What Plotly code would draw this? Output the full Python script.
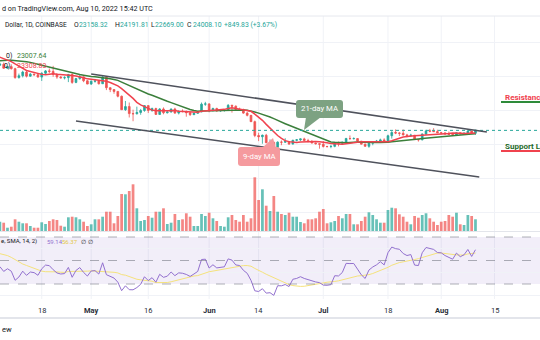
import numpy as np
import pandas as pd
import plotly.graph_objects as go

# ---------------- data ----------------
# closes before the visible window (Mar 1 - Apr 6, 2022) used for MA / RSI warm-up
pre_closes = [44420, 43920, 42460, 39140, 39400, 38420, 37990, 38740, 41940, 39440,
              38730, 38820, 37790, 39670, 39290, 41140, 40930, 41770, 42220, 41260,
              41000, 42360, 42890, 43960, 44330, 44530, 46830, 47120, 47440, 47060,
              45510, 46280, 45810, 46400, 46580, 45490, 43170]

# visible daily candles Apr 7 - Aug 10, 2022
opens = [43170, 43450, 42280, 42760, 42160, 39530, 40090, 41150, 39940, 40550,
         40390, 39680, 40800, 41490, 41370, 40480, 39710, 39460, 39520, 40430,
         38120, 39240, 39740, 38590, 37630, 38470, 38530, 37720, 39690, 36550,
         36010, 35470, 34040, 30080, 31010, 28940, 28880, 29280, 29860, 31290,
         29860, 30420, 28690, 30300, 29190, 29430, 30290, 29090, 29650, 29540,
         29200, 28620, 29020, 29450, 31720, 31790, 29800, 30450, 29700, 29860,
         29900, 31370, 31130, 30190, 30080, 29090, 28420, 26570, 22490, 22140,
         22570, 20380, 20450, 19010, 20550, 20520, 20720, 19970, 21100, 21230,
         21500, 21030, 20730, 20280, 20100, 19930, 19290, 19250, 19310, 20230,
         20190, 20550, 21620, 21590, 21600, 20850, 19960, 19320, 20220, 20580,
         20830, 21200, 20790, 22430, 23400, 23220, 23150, 22680, 22450, 22580,
         21310, 21250, 22950, 23850, 23780, 23640, 23300, 23270, 22990, 22820,
         22620, 23310, 22960, 23180, 23810, 23158.32]
highs = [43890, 43970, 42800, 43430, 42420, 40700, 41560, 41500, 40870, 40710,
         40600, 41100, 41760, 42200, 42980, 40800, 39990, 39930, 40620, 40800,
         39450, 40380, 39920, 38800, 38680, 39150, 38640, 39970, 39850, 36670,
         36140, 35500, 34250, 32660, 32200, 30100, 30990, 30320, 31400, 31310,
         30700, 30670, 30540, 30760, 29630, 30420, 30670, 29830, 30180, 29860,
         29380, 29200, 29540, 32200, 32400, 31980, 30670, 30670, 29950, 30180,
         31760, 31560, 31330, 30690, 30390, 29430, 28550, 26880, 23320, 22780,
         22980, 21350, 20750, 20780, 21040, 21700, 20880, 21220, 21470, 21580,
         21860, 21530, 21180, 20420, 20140, 20880, 19430, 19650, 20330, 20720,
         20650, 21810, 22520, 21950, 21610, 20860, 20050, 20250, 20880, 21190,
         21580, 21680, 22740, 23780, 24290, 23440, 24270, 22990, 23010, 22660,
         21340, 23100, 24200, 24440, 24660, 24200, 23480, 23460, 23650, 23200,
         23460, 23350, 23380, 24250, 23930, 24191.81]
lows = [43060, 42110, 42130, 41890, 39200, 39250, 39580, 39570, 39780, 40020,
        39550, 38540, 40560, 40850, 39760, 39180, 39300, 39000, 38200, 37700,
        37880, 38900, 38180, 37600, 37400, 38050, 37500, 37670, 35860, 35260,
        34780, 33720, 30030, 29750, 27800, 26700, 28700, 28600, 29480, 29100,
        29460, 28660, 28690, 28740, 28960, 29230, 28880, 28690, 29310, 28030,
        28280, 28560, 28850, 29320, 31220, 29320, 29610, 29520, 29470, 29520,
        29880, 29230, 29850, 29940, 28870, 28120, 26550, 22000, 20850, 20080,
        20240, 20280, 17600, 18000, 19650, 20380, 19770, 19920, 20780, 20910,
        20990, 20500, 20210, 19830, 18620, 18970, 18970, 18760, 19040, 19300,
        19760, 20250, 21210, 21320, 20660, 19880, 19240, 18900, 19630, 20400,
        20480, 20760, 20760, 21580, 22910, 22340, 22520, 21950, 22300, 21250,
        20710, 21050, 22600, 23430, 23520, 23230, 22860, 22670, 22690, 22430,
        22590, 22930, 22860, 23150, 22880, 22669.00]
closes = [43450, 42280, 42760, 42160, 39530, 40090, 41150, 39940, 40550, 40390,
          39680, 40800, 41490, 41370, 40480, 39710, 39460, 39520, 40430, 38120,
          39240, 39740, 38590, 37630, 38470, 38530, 37720, 39690, 36550, 36010,
          35470, 34040, 30080, 31010, 28940, 28880, 29280, 29860, 31290, 29860,
          30420, 28690, 30300, 29190, 29430, 30290, 29090, 29650, 29540, 29200,
          28620, 29020, 29450, 31720, 31790, 29800, 30450, 29700, 29860, 29900,
          31370, 31130, 30190, 30080, 29090, 28420, 26570, 22490, 22140, 22570,
          20380, 20450, 19010, 20550, 20520, 20720, 19970, 21100, 21230, 21500,
          21030, 20730, 20280, 20100, 19930, 19290, 19250, 19310, 20230, 20190,
          20550, 21620, 21590, 21600, 20850, 19960, 19320, 20220, 20580, 20830,
          21200, 20790, 22430, 23400, 23220, 23150, 22680, 22450, 22580, 21310,
          21250, 22950, 23850, 23780, 23640, 23300, 23270, 22990, 22820, 22620,
          23310, 22960, 23180, 23810, 23158.32, 24008.10]
# volume, thousand BTC
volumes = [18.6, 16.6, 6.6, 8.6, 23.4, 18.6, 15.4, 15.4, 10.0, 6.6,
           6.6, 17.4, 14.0, 20.0, 23.4, 22.0, 10.6, 8.6, 27.4, 28.6,
           27.4, 23.4, 18.6, 10.0, 13.4, 23.4, 23.4, 28.6, 38.6, 38.6,
           15.4, 30.0, 74.0, 73.4, 80.0, 93.4, 45.4, 20.0, 22.0, 30.0,
           26.6, 38.6, 38.6, 45.4, 14.0, 16.6, 34.0, 22.0, 23.4, 35.4,
           28.6, 10.0, 10.0, 34.0, 30.0, 36.6, 25.4, 20.0, 10.0, 8.6,
           27.4, 32.0, 22.0, 18.6, 32.0, 18.6, 25.4, 107.4, 62.0, 83.4,
           50.6, 40.0, 70.0, 38.6, 34.0, 32.0, 36.6, 28.6, 28.6, 18.0,
           15.4, 23.4, 23.4, 25.4, 38.6, 44.0, 15.4, 17.4, 20.0, 30.0,
           25.4, 34.0, 34.0, 13.4, 13.4, 20.0, 28.6, 37.4, 32.0, 23.4,
           16.6, 16.6, 42.0, 46.6, 45.4, 33.4, 28.6, 18.6, 13.4, 30.0,
           26.6, 32.0, 35.4, 25.4, 18.6, 12.0, 18.6, 20.0, 32.0, 28.6,
           36.6, 13.4, 12.0, 32.0, 30.0, 23.4]

tick_dates = ["2022-04-18", "2022-05-01", "2022-05-16", "2022-06-01", "2022-06-14",
              "2022-07-01", "2022-07-18", "2022-08-01", "2022-08-15"]
tick_labels = ["18", "May", "16", "Jun", "14", "Jul", "18", "Aug", "15"]

# user-drawn channel lines (date, price)
upper_line_dates = ["2022-05-01", "2022-08-13"]
upper_line_prices = [40600, 23500]
lower_line_dates = ["2022-04-27", "2022-08-11"]
lower_line_prices = [26750, 10300]

legend_ma21 = "23007.64"
legend_ma9 = "23308.83"
legend_rsi = "59.14"
legend_rsi_ma = "56.37"
legend_change = "+849.83 (+3.67%)"

# ---------------- derived series (library-style indicators) ----------------
all_dates = pd.date_range("2022-03-01", periods=len(pre_closes) + len(closes), freq="D")
dates = all_dates[len(pre_closes):]
s = pd.Series(pre_closes + closes, dtype=float)
ma9 = s.rolling(9).mean()
ma21 = s.rolling(21).mean()

delta = s.diff().values
gain = np.where(delta > 0, delta, 0.0)
loss = np.where(delta < 0, -delta, 0.0)
n = 14
ag = np.full(len(s), np.nan)
al = np.full(len(s), np.nan)
ag[n] = gain[1:n + 1].mean()
al[n] = loss[1:n + 1].mean()
for i in range(n + 1, len(s)):
    ag[i] = (ag[i - 1] * (n - 1) + gain[i]) / n
    al[i] = (al[i - 1] * (n - 1) + loss[i]) / n
rsi = 100 - 100 / (1 + ag / al)
rsi_ma = pd.Series(rsi).rolling(14).mean().values

# ---------------- styling / layout ----------------
W, H = 540, 340
def X(px):
    return px / W
def Y(py):
    return 1 - py / H

FONT = "Roboto, 'DejaVu Sans', sans-serif"
DARK = "#131722"
UP = "#26a69a"
DOWN = "#ef5350"
MA_GREEN = "#3b7f3b"
MA_RED = "#f0424e"
GRID = "#f0f2f7"

vol_colors = ["rgba(38,166,154,0.7)" if c >= o else "rgba(239,83,80,0.7)"
              for o, c in zip(opens, closes)]

fig = go.Figure()
fig.add_trace(go.Bar(x=dates, y=volumes, marker_color=vol_colors, marker_line_width=0,
                     width=0.72 * 86400000, yaxis="y2", hoverinfo="skip"))
fig.add_trace(go.Candlestick(x=dates, open=opens, high=highs, low=lows, close=closes,
                             increasing=dict(line=dict(color=UP, width=0.8), fillcolor=UP),
                             decreasing=dict(line=dict(color=DOWN, width=0.8), fillcolor=DOWN),
                             whiskerwidth=0, hoverinfo="skip"))
fig.add_trace(go.Scatter(x=all_dates, y=ma21, mode="lines",
                         line=dict(color=MA_GREEN, width=1.5), hoverinfo="skip"))
fig.add_trace(go.Scatter(x=all_dates, y=ma9, mode="lines",
                         line=dict(color=MA_RED, width=1.5), hoverinfo="skip"))
fig.add_trace(go.Scatter(x=all_dates, y=rsi_ma, mode="lines", xaxis="x", yaxis="y3",
                         line=dict(color="#f5e27c", width=1), hoverinfo="skip"))
fig.add_trace(go.Scatter(x=all_dates, y=rsi, mode="lines", xaxis="x", yaxis="y3",
                         line=dict(color="#9270cf", width=1), hoverinfo="skip"))

main_dom = [Y(231), Y(16)]
rsi_dom = [Y(300), Y(231)]
price_rng = [(212 - 231) / 3.4 * 1000, (212 - 16) / 3.4 * 1000]
rsi_rng = [70 - (300 - 237) / 1.175, 70 - (231 - 237) / 1.175]

shapes = []
# vertical grid
for d in tick_dates:
    shapes.append(dict(type="line", xref="x", yref="paper", x0=d, x1=d, y0=Y(299), y1=Y(16),
                       line=dict(color=GRID, width=1), layer="below"))
# separators
shapes.append(dict(type="line", xref="paper", yref="paper", x0=0, x1=1, y0=Y(16), y1=Y(16),
                   line=dict(color="#e6e8ee", width=1)))
shapes.append(dict(type="line", xref="paper", yref="paper", x0=0, x1=1, y0=Y(231.5), y1=Y(231.5),
                   line=dict(color="#e3e5eb", width=1)))
shapes.append(dict(type="line", xref="paper", yref="paper", x0=0, x1=1, y0=Y(318), y1=Y(318),
                   line=dict(color="#e3e5eb", width=2)))
# RSI band and levels
shapes.append(dict(type="rect", xref="paper", yref="y3", x0=0, x1=1, y0=30, y1=70,
                   fillcolor="rgba(126,87,194,0.10)", line=dict(width=0), layer="below"))
for lvl in (70, 50, 30):
    shapes.append(dict(type="line", xref="paper", yref="y3", x0=0, x1=1, y0=lvl, y1=lvl,
                       line=dict(color="rgba(120,123,134,0.6)", width=1, dash="dash")))
# current price line
shapes.append(dict(type="line", xref="paper", yref="y", x0=0, x1=1, y0=closes[-1], y1=closes[-1],
                   line=dict(color=UP, width=1, dash="dot")))
# channel lines
for ds, ps in ((upper_line_dates, upper_line_prices), (lower_line_dates, lower_line_prices)):
    shapes.append(dict(type="line", xref="x", yref="y", x0=ds[0], x1=ds[1], y0=ps[0], y1=ps[1],
                       line=dict(color="#4f525c", width=1.5)))

def rrect(x0, y0, x1, y1, r):
    p = lambda a, b: f"{X(a):.5f},{Y(b):.5f}"
    return (f"M {p(x0 + r, y0)} L {p(x1 - r, y0)} Q {p(x1, y0)} {p(x1, y0 + r)} "
            f"L {p(x1, y1 - r)} Q {p(x1, y1)} {p(x1 - r, y1)} L {p(x0 + r, y1)} "
            f"Q {p(x0, y1)} {p(x0, y1 - r)} L {p(x0, y0 + r)} Q {p(x0, y0)} {p(x0 + r, y0)} Z")

def tri(pts):
    return "M " + " L ".join(f"{X(a):.5f},{Y(b):.5f}" for a, b in pts) + " Z"

C21 = "#7da282"
C9 = "#f59a9e"
shapes.append(dict(type="path", xref="paper", yref="paper", path=tri([(306, 117), (321, 117), (304, 130)]),
                   fillcolor=C21, line=dict(width=0), layer="above"))
shapes.append(dict(type="path", xref="paper", yref="paper", path=rrect(296, 100, 343, 118, 3),
                   fillcolor=C21, line=dict(width=0), layer="above"))
shapes.append(dict(type="path", xref="paper", yref="paper", path=tri([(262, 148), (276, 148), (273, 138)]),
                   fillcolor=C9, line=dict(width=0), layer="above"))
shapes.append(dict(type="path", xref="paper", yref="paper", path=rrect(238, 147, 280, 166, 3),
                   fillcolor=C9, line=dict(width=0), layer="above"))
# level underlines
shapes.append(dict(type="line", xref="paper", yref="paper", x0=X(501), x1=X(545), y0=Y(102), y1=Y(102),
                   line=dict(color="#2e8b3a", width=2)))
shapes.append(dict(type="line", xref="paper", yref="paper", x0=X(501), x1=X(545), y0=Y(151), y1=Y(151),
                   line=dict(color="#f0424e", width=2)))

ann = []
def txt(x, y, t, color=DARK, size=7.0, anchor="left", bold=False):
    ann.append(dict(xref="paper", yref="paper", x=X(x), y=Y(y), text=(f"<b>{t}</b>" if bold else t),
                    showarrow=False, xanchor=anchor, yanchor="middle",
                    font=dict(family=FONT, size=size, color=color)))

txt(-0.5, 8, "d on TradingView.com, Aug 10, 2022 15:42 UTC", size=7.2)
txt(3, 25, "Dollar, 1D, COINBASE", size=6.6)
txt(72, 25, "O", size=6.8); txt(76.5, 25, f"{opens[-1]:.2f}", UP, size=6.8)
txt(112.5, 25, "H", size=6.8); txt(117.5, 25, f"{highs[-1]:.2f}", UP, size=6.8)
txt(148.5, 25, "L", size=6.8); txt(153, 25, f"{lows[-1]:.2f}", UP, size=6.8)
txt(185, 25, "C", size=6.8); txt(190.5, 25, f"{closes[-1]:.2f}", UP, size=6.8)
txt(222, 25, legend_change, UP, size=6.8)
txt(4, 56, "0)")
txt(15, 56, legend_ma21, MA_GREEN)
txt(2, 66, "0)")
txt(15, 66, legend_ma9, MA_RED)
txt(-1, 241, "e, SMA, 14, 2)", size=6.0)
txt(44.5, 241, legend_rsi, "#9270cf", size=6.0)
txt(60, 241, legend_rsi_ma, "#e3c84a", size=6.0)
txt(79, 241, "∅", size=6.0)
txt(86, 241, "∅", size=6.0)
txt(319.5, 109, "21-day MA", "white", size=7.8, anchor="center")
txt(259, 156.5, "9-day MA", "white", size=7.8, anchor="center")
txt(503, 97, "Resistance Levels", "#f0424e", size=8, bold=True)
txt(503, 146, "Support Levels", "#1f6b2a", size=8, bold=True)
txt(-0.5, 329, "ew", size=7.5)
for d, lab in zip(tick_dates, tick_labels):
    ann.append(dict(xref="x", yref="paper", x=d, y=Y(310), text=(f"<b>{lab}</b>" if lab.isalpha() else lab),
                    showarrow=False, xanchor="center", yanchor="middle",
                    font=dict(family=FONT, size=7.5, color="#2a2e39")))

fig.update_layout(
    width=W, height=H, margin=dict(l=0, r=0, t=0, b=0),
    paper_bgcolor="white", plot_bgcolor="white", showlegend=False,
    boxgap=0.35,
    xaxis=dict(type="date", range=["2022-04-07 00:45", "2022-08-26 23:00"], showgrid=False,
               showticklabels=False, zeroline=False, showline=False, ticks="",
               rangeslider=dict(visible=False), fixedrange=True),
    yaxis=dict(domain=main_dom, range=price_rng, tickvals=[0, 10000, 20000, 30000, 40000, 50000],
               showgrid=True, gridcolor=GRID, showticklabels=False, zeroline=False, ticks="",
               fixedrange=True),
    yaxis2=dict(overlaying="y", range=[0, 430], visible=False, fixedrange=True),
    yaxis3=dict(domain=rsi_dom, range=rsi_rng, anchor="x", tickvals=[20, 40, 60], showgrid=True,
                gridcolor=GRID, showticklabels=False, zeroline=False, ticks="", fixedrange=True),
    shapes=shapes, annotations=ann,
)
fig.write_html("out.html")
